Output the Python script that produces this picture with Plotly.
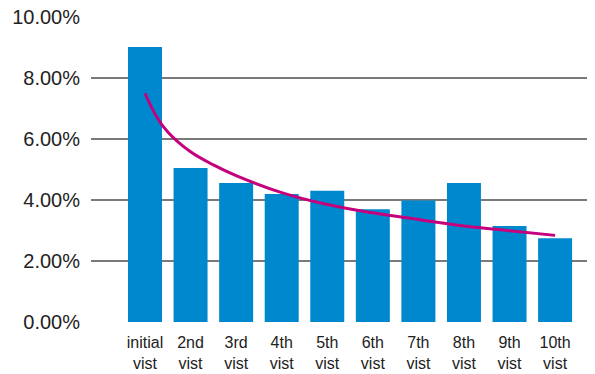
import plotly.graph_objects as go

categories = ["initial<br>vist", "2nd<br>vist", "3rd<br>vist", "4th<br>vist", "5th<br>vist",
              "6th<br>vist", "7th<br>vist", "8th<br>vist", "9th<br>vist", "10th<br>vist"]
visit_rates = [9.02, 5.05, 4.56, 4.20, 4.30, 3.70, 3.98, 4.56, 3.15, 2.75]
# trend line (position in category index units, value in %)
trend_pos = [0, 0.25, 0.5, 1, 1.5, 2, 3, 4, 5, 6, 7, 8, 9]
trend_values = [7.50, 6.74, 6.23, 5.58, 5.15, 4.80, 4.24, 3.85, 3.58, 3.36, 3.15, 2.99, 2.84]
y_ticks = [0, 2, 4, 6, 8, 10]
y_tick_text = [f"{v:.2f}%" for v in y_ticks]

positions = list(range(len(categories)))

fig = go.Figure()
fig.add_trace(go.Bar(x=positions, y=visit_rates, width=0.746,
                     marker=dict(color="#0088CF", line=dict(width=0)),
                     showlegend=False, hoverinfo="y"))
fig.add_trace(go.Scatter(x=trend_pos, y=trend_values, mode="lines",
                         line=dict(color="#C4007C", width=3, shape="spline", smoothing=1.0),
                         showlegend=False))

fig.update_layout(
    width=595, height=374,
    margin=dict(l=91, r=8, t=17, b=52),
    paper_bgcolor="white", plot_bgcolor="white",
    font=dict(family="Liberation Sans, Arial, sans-serif", color="#222222"),
    xaxis=dict(range=[-1.185, 9.70], tickvals=positions, ticktext=categories,
               showgrid=False, zeroline=False, showline=False, ticks="",
               tickfont=dict(size=16, color="#222222"), tickangle=0,
               ticklabelstandoff=9, automargin=False),
    yaxis=dict(range=[0, 10], tickvals=y_ticks, ticktext=y_tick_text,
               showgrid=True, gridcolor="#7a7a7a", gridwidth=1.5, zeroline=False,
               showline=False, ticks="", tickfont=dict(size=20, color="#222222"),
               ticklabelstandoff=10, automargin=False),
)

fig.write_html("out.html")
